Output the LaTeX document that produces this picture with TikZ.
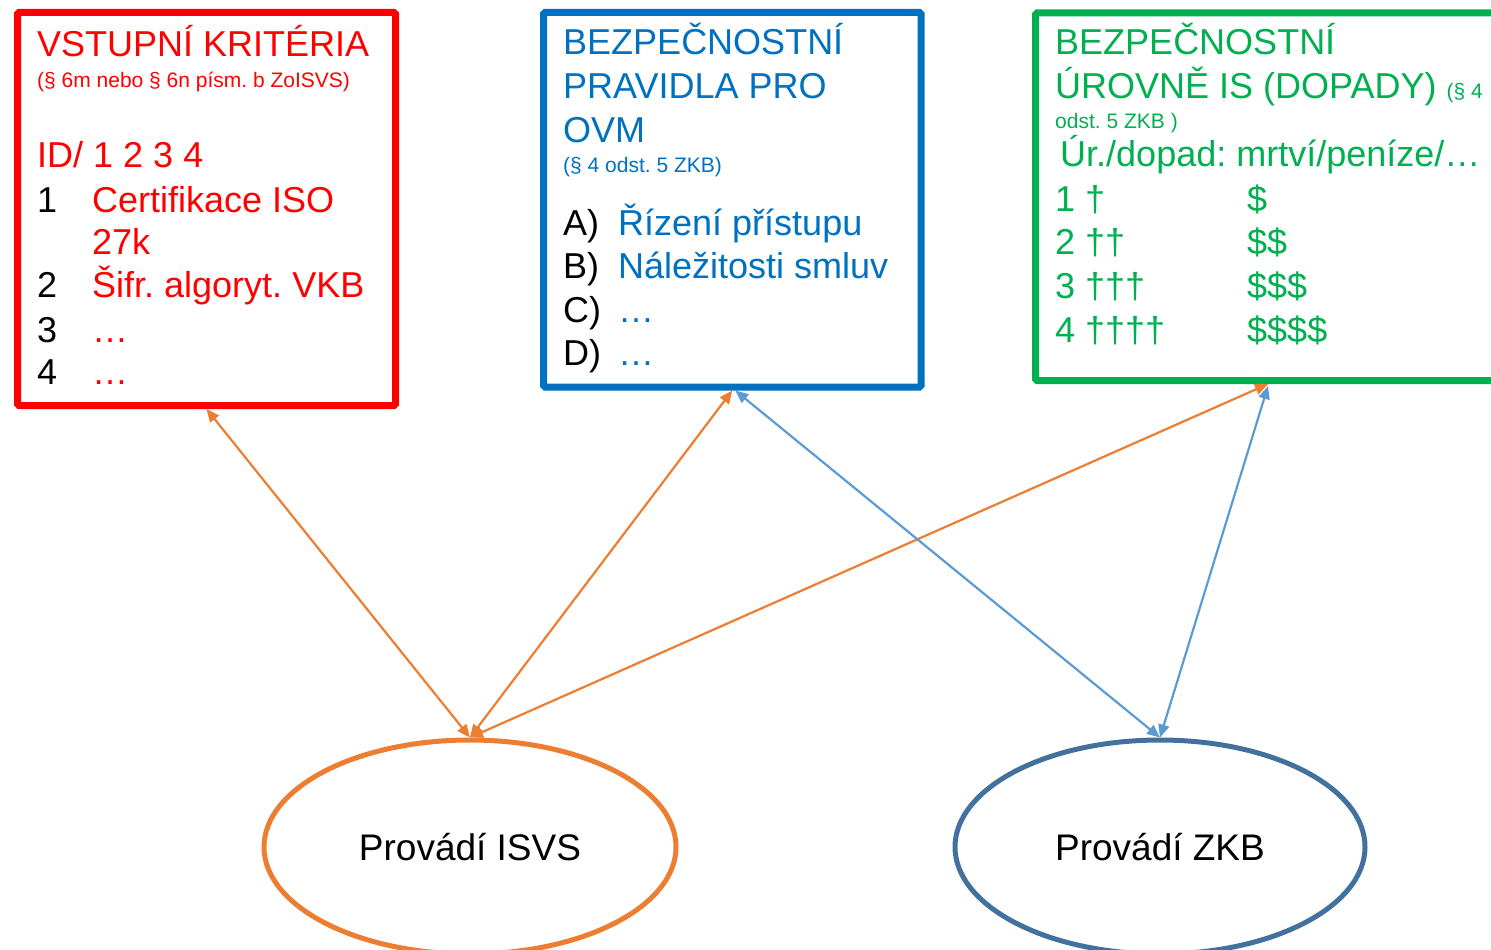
\documentclass[tikz,border=0pt]{standalone}
\usepackage{fontspec}
\setmainfont{Liberation Sans}
\usetikzlibrary{arrows.meta, shapes.geometric}
\usetikzlibrary{positioning}
\frenchspacing

\definecolor{cervena}{HTML}{FF0000}
\definecolor{modra}{HTML}{0070C0}
\definecolor{zelena}{HTML}{00B050}
\definecolor{oranzova}{HTML}{ED7D31}
\definecolor{svetlemodra}{HTML}{5B9BD5}
\definecolor{tmavemodra}{HTML}{41719C}

\tikzset{
  ramecek/.style={draw, line width=7pt, rounded corners=1.5pt, inner sep=0pt},
  elipsa/.style={ellipse, draw, line width=5pt, inner sep=0pt, font=\fontsize{37}{44}\selectfont},
  velky/.style={anchor=base west, inner sep=0pt, font=\fontsize{36}{43}\selectfont},
  maly/.style={anchor=base west, inner sep=0pt, font=\fontsize{21}{25}\selectfont},
  spoj/.style={{Triangle[length=13pt,width=11pt]}-{Triangle[length=13pt,width=11pt]}, line width=2.2pt},
}

\begin{document}
\begin{tikzpicture}[x=1pt, y=-1pt]
    \useasboundingbox (0,0) rectangle (1491,950);
    \clip (0,0) rectangle (1491,950);

    \node[ramecek, cervena, minimum width=378pt, minimum height=393pt] (krit) at (206.5,209) {};
    \node[ramecek, modra, minimum width=377.5pt, minimum height=374.5pt] (pravidla) at (732.25,199.75) {};
    \node[ramecek, zelena, minimum width=465pt, minimum height=367.5pt] (urovne) at (1268,196.75) {};

    \node[elipsa, oranzova, minimum width=412pt, minimum height=214pt] (isvs) at (470,847) {\textcolor{black}{Provádí ISVS}};
    \node[elipsa, tmavemodra, minimum width=410pt, minimum height=214pt] (zkb) at (1160,847) {\textcolor{black}{Provádí ZKB}};

    \node[velky, cervena] (k1) at (37,57) {VSTUPNÍ KRITÉRIA};
    \node[maly, cervena] (k2) at (37,87) {(§ 6m nebo § 6n písm. b ZoISVS)};
    \node[velky, cervena] (k3) at (37,167) {ID/ 1 2 3 4};
    \foreach \c/\y/\t in {1/212/Certifikace ISO, 2/297/Šifr. algoryt. VKB, 3/342/…, 4/384/…}{
        \node[velky] (kc\c) at (37,\y) {\c};
        \node[velky, cervena] (kt\c) at (92,\y) {\t};
    }
    \node[velky, cervena] (kt1b) at (92,254) {27k};

    \node[velky, modra] (p1) at (563,55) {BEZPEČNOSTNÍ};
    \node[velky, modra] (p2) at (563,99) {PRAVIDLA PRO};
    \node[velky, modra] (p3) at (563,142) {OVM};
    \node[maly, modra] (p4) at (563,172) {(§ 4 odst. 5 ZKB)};
    \foreach \c/\y/\t in {A/235/Řízení přístupu, B/278/Náležitosti smluv, C/322/…, D/365/…}{
        \node[velky] (pc\c) at (563,\y) {\c)};
        \node[velky, modra] (pt\c) at (618,\y) {\t};
    }

    \node[velky, zelena] (u1) at (1055,55) {BEZPEČNOSTNÍ};
    \node[velky, zelena] (u2) at (1055,98) {ÚROVNĚ IS (DOPADY) {\fontsize{21}{25}\selectfont(§ 4}};
    \node[maly, zelena] (u3) at (1055,128) {odst. 5 ZKB )};
    \node[velky, zelena] (u4) at (1060,166) {Úr./dopad: mrtví/peníze/…};
    \foreach \c/\y/\m/\p in {1/211/†/\$, 2/254/††/\$\$, 3/298/†††/\$\$\$, 4/342/††††/\$\$\$\$}{
        \node[velky, zelena] (um\c) at (1055,\y) {\c\ \m};
        \node[velky, zelena] (up\c) at (1247,\y) {\p};
    }

    \draw[spoj, oranzova] (krit.south) -- (isvs.north);
    \draw[spoj, oranzova] (pravidla.south) -- (isvs.north);
    \draw[spoj, oranzova] (urovne.south) -- (isvs.north);
    \draw[spoj, svetlemodra] ([xshift=3pt]pravidla.south) -- (zkb.north);
    \draw[spoj, svetlemodra] ([yshift=-2pt]urovne.south) -- (zkb.north);
\end{tikzpicture}
\end{document}
